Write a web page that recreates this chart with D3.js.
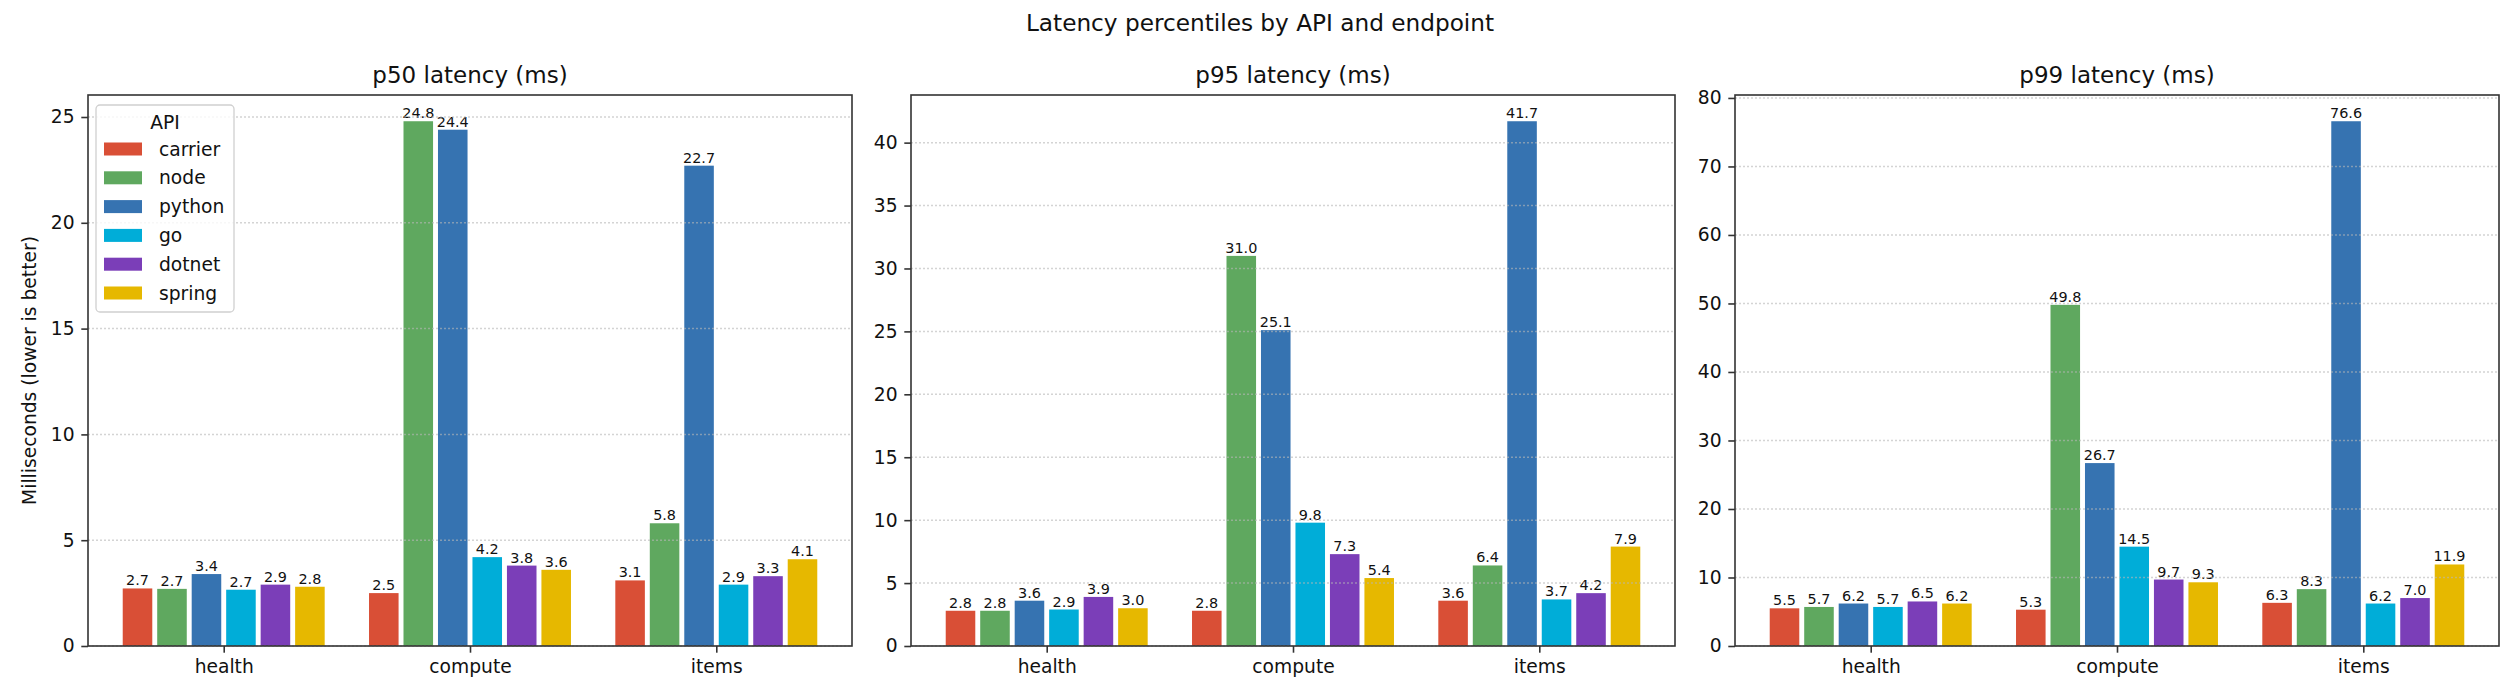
<!DOCTYPE html>
<html>
<head>
<meta charset="utf-8">
<script src="https://cdn.jsdelivr.net/npm/d3@7"></script>
<style>
body { margin: 0; background: #fff; }
text { font-family: "DejaVu Sans", sans-serif; fill: #111; }
</style>
</head>
<body>
<div id="chart"></div>
<script>
var endpoints = ["health", "compute", "items"];
var apis = ["carrier", "node", "python", "go", "dotnet", "spring"];
var colors = ["#d94f36", "#5fa85f", "#3673b1", "#00add8", "#7b3eb8", "#e6b800"];
var panelTitles = ["p50 latency (ms)", "p95 latency (ms)", "p99 latency (ms)"];

// rows = endpoint, columns = api (same order as apis)
var p50 = [
	[2.72, 2.7, 3.4, 2.66, 2.9, 2.8],
	[2.5, 24.8, 24.4, 4.2, 3.8, 3.6],
	[3.1, 5.8, 22.7, 2.9, 3.3, 4.1]
];
var p95 = [
	[2.8, 2.8, 3.6, 2.9, 3.9, 3.0],
	[2.8, 31.0, 25.1, 9.8, 7.3, 5.4],
	[3.6, 6.4, 41.7, 3.7, 4.2, 7.9]
];
var p99 = [
	[5.5, 5.7, 6.2, 5.7, 6.5, 6.2],
	[5.3, 49.8, 26.7, 14.5, 9.7, 9.3],
	[6.3, 8.3, 76.6, 6.2, 7.0, 11.9]
];
var yTicks = [
	[0, 5, 10, 15, 20, 25],
	[0, 5, 10, 15, 20, 25, 30, 35, 40],
	[0, 10, 20, 30, 40, 50, 60, 70, 80]
];

var panels = [p50, p95, p99];
var lefts = [88, 911, 1735];
var pw = 764, plotTop = 95, plotBottom = 646;
var step = 0.14, barW = 0.12;

var svg = d3.select("#chart").append("svg")
	.attr("width", 2520)
	.attr("height", 700);

svg.append("text")
	.attr("x", 1260)
	.attr("y", 31)
	.attr("text-anchor", "middle")
	.style("font-size", "23.2px")
	.text("Latency percentiles by API and endpoint");

for (var p = 0; p < panels.length; p++) {
	var vals = panels[p];
	var left = lefts[p];
	var max = d3.max(vals, function(r) { return d3.max(r); });

	// matplotlib style 5% margins around the bar extent
	var lo = -2.5 * step - barW / 2, hi = 2 + 2.5 * step + barW / 2;
	var pad = (hi - lo) * 0.05;
	var x = d3.scaleLinear().domain([lo - pad, hi + pad]).range([left, left + pw]);
	var y = d3.scaleLinear().domain([0, max * 1.05]).range([plotBottom, plotTop]);

	var g = svg.append("g");

	var cells = [];
	for (var e = 0; e < endpoints.length; e++) {
		for (var a = 0; a < apis.length; a++) {
			cells.push({e: e, a: a, v: vals[e][a]});
		}
	}

	g.selectAll("rect.bar")
		.data(cells)
		.enter()
		.append("rect")
		.attr("class", "bar")
		.attr("x", function(d) { return x(d.e + (d.a - 2.5) * step - barW / 2); })
		.attr("width", function(d) { return x(barW) - x(0); })
		.attr("y", function(d) { return y(d.v); })
		.attr("height", function(d) { return plotBottom - y(d.v); })
		.attr("fill", function(d) { return colors[d.a]; });

	g.selectAll("text.val")
		.data(cells)
		.enter()
		.append("text")
		.attr("class", "val")
		.attr("x", function(d) { return x(d.e + (d.a - 2.5) * step); })
		.attr("y", function(d) { return y(d.v) - 3; })
		.attr("text-anchor", "middle")
		.style("font-size", "14.4px")
		.text(function(d) { return d.v.toFixed(1); });

	// grid sits above the bars, faint
	g.selectAll("line.grid")
		.data(yTicks[p])
		.enter()
		.append("line")
		.attr("class", "grid")
		.attr("x1", left)
		.attr("x2", left + pw)
		.attr("y1", function(d) { return y(d); })
		.attr("y2", function(d) { return y(d); })
		.style("stroke", "#b8b8b8")
		.style("stroke-opacity", 0.6)
		.style("stroke-width", 1.5)
		.style("stroke-dasharray", "2,2");

	var xAxis = g.append("g")
		.attr("transform", "translate(0," + plotBottom + ")")
		.call(d3.axisBottom(x).tickValues([0, 1, 2])
			.tickFormat(function(i) { return endpoints[i]; })
			.tickSize(6.7).tickPadding(6.7));

	var yAxis = g.append("g")
		.attr("transform", "translate(" + left + ",0)")
		.call(d3.axisLeft(y).tickValues(yTicks[p])
			.tickFormat(d3.format("d"))
			.tickSize(6.7).tickPadding(6.7));

	[xAxis, yAxis].forEach(function(ax) {
		ax.select(".domain").remove();
		ax.selectAll("line").style("stroke", "#333").style("stroke-width", 1.6);
		ax.selectAll("text").style("font-size", "18.7px").style("font-family", "DejaVu Sans").attr("fill", "#111");
	});

	g.append("rect")
		.attr("x", left)
		.attr("y", plotTop)
		.attr("width", pw)
		.attr("height", plotBottom - plotTop)
		.attr("fill", "none")
		.style("stroke", "#333")
		.style("stroke-width", 1.6);

	g.append("text")
		.attr("x", left + pw / 2)
		.attr("y", 83)
		.attr("text-anchor", "middle")
		.style("font-size", "23px")
		.text(panelTitles[p]);
}

svg.append("text")
	.attr("transform", "translate(29," + (plotTop + plotBottom) / 2 + ") rotate(-90)")
	.attr("text-anchor", "middle")
	.attr("dy", "0.35em")
	.style("font-size", "18.7px")
	.text("Milliseconds (lower is better)");

// legend in the first panel
var leg = svg.append("g");
leg.append("rect")
	.attr("x", 96)
	.attr("y", 105)
	.attr("width", 138)
	.attr("height", 207)
	.attr("rx", 4)
	.attr("fill", "#fff")
	.attr("fill-opacity", 0.8)
	.style("stroke", "#d0d0d0")
	.style("stroke-width", 1.3);

leg.append("text")
	.attr("x", 165)
	.attr("y", 129)
	.attr("text-anchor", "middle")
	.style("font-size", "18.7px")
	.text("API");

leg.selectAll("rect.sw")
	.data(apis)
	.enter()
	.append("rect")
	.attr("class", "sw")
	.attr("x", 104)
	.attr("y", function(d, i) { return 149 + i * 28.8 - 6.5; })
	.attr("width", 38)
	.attr("height", 13)
	.attr("fill", function(d, i) { return colors[i]; });

leg.selectAll("text.lab")
	.data(apis)
	.enter()
	.append("text")
	.attr("class", "lab")
	.attr("x", 159)
	.attr("y", function(d, i) { return 149 + i * 28.8; })
	.attr("dy", "0.35em")
	.style("font-size", "18.7px")
	.text(function(d) { return d; });
</script>
</body>
</html>
